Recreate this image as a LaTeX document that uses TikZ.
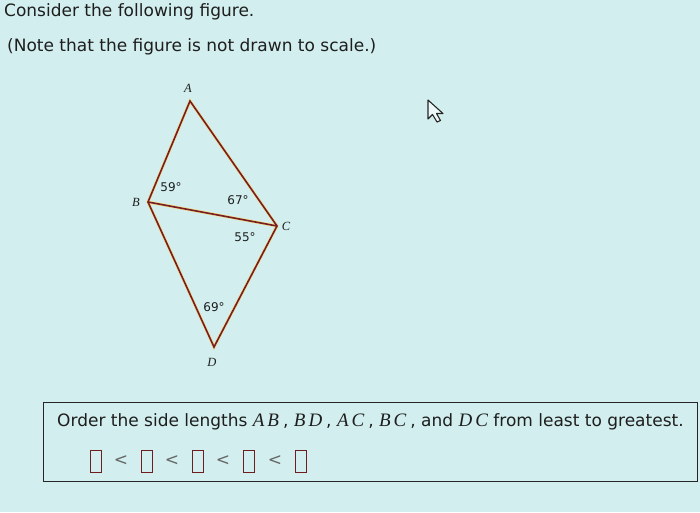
\documentclass[tikz,border=0pt]{standalone}
\usepackage{fontspec}
\setmainfont{DejaVu Sans}
\newfontfamily\serifit{Liberation Serif}
\definecolor{bg}{RGB}{210,238,238}
\definecolor{edge}{RGB}{120,28,40}
\definecolor{halo}{RGB}{235,200,60}
\definecolor{txt}{RGB}{30,30,30}
\definecolor{boxred}{RGB}{110,30,30}
\newcommand{\mv}[1]{{\serifit\itshape\fontsize{19}{20}\selectfont #1}}
\tikzset{
  side/.style={draw=edge, line width=1.6pt},
  sidehalo/.style={draw=halo!70, line width=2.8pt},
  vlabel/.style={font=\serifit\itshape\fontsize{12.5}{14}\selectfont, text=txt, inner sep=0pt},
  alabel/.style={font=\fontsize{12}{14}\selectfont, text=txt, inner sep=0pt},
  ansbox/.style={draw=boxred, line width=0.9pt, minimum width=11pt, minimum height=22pt, inner sep=0pt},
  lt/.style={font=\fontsize{17}{18}\selectfont, text=black!60, inner sep=0pt},
}
\begin{document}
\begin{tikzpicture}[x=1pt,y=-1pt]
\fill[bg] (0,0) rectangle (700,512);
\useasboundingbox (0,0) rectangle (700,512);
\node[anchor=west, text=txt, inner sep=0pt, font=\fontsize{17}{19}\selectfont] (t1) at (4,12) {Consider the following figure.};
\node[anchor=west, text=txt, inner sep=0pt, font=\fontsize{17}{19}\selectfont] (t2) at (7,47) {(Note that the figure is not drawn to scale.)};
\coordinate (A) at (190,101);
\coordinate (B) at (148,202);
\coordinate (C) at (277,226);
\coordinate (D) at (214,347);
\draw[sidehalo] (A) -- (C) -- (D) -- (B) -- cycle;
\draw[sidehalo] (B) -- (C);
\draw[side, line join=miter] (A) -- (C) -- (D) -- (B) -- cycle;
\draw[side] (B) -- (C);
\node[vlabel] (lA) at (188,88) {A};
\node[vlabel] (lB) at (136,202) {B};
\node[vlabel] (lC) at (286,226) {C};
\node[vlabel] (lD) at (212,362) {D};
\node[alabel] (a59) at (171,187) {59°};
\node[alabel] (a67) at (238,200) {67°};
\node[alabel] (a55) at (245,237) {55°};
\node[alabel] (a69) at (214,307) {69°};
% mouse cursor
\draw[black!85, line width=1.1pt, fill=bg!40, line join=round]
  (428,100) -- (428,119) -- (432.5,114.5) -- (437,122) -- (440.5,120.5) -- (436.5,113.5) -- (443,113.5) -- cycle;
\node[draw=black!85, line width=1.2pt, minimum width=654pt, minimum height=79pt, anchor=north west, inner sep=0pt] (frame) at (43,402) {};
\node[anchor=west, text=txt, inner sep=0pt, font=\fontsize{17}{19}\selectfont] (q) at (57,422) {Order the side lengths \mv{A\kern3pt B}\kern4pt, \mv{B\kern3pt D}\kern4pt, \mv{A\kern3pt C}\kern4pt, \mv{B\kern3pt C}\kern4pt, and \mv{D\kern3pt C} from least to greatest.};
\node[ansbox] (b1) at (96,461) {};
\node[lt] (l1) at (121,461) {<};
\node[ansbox] (b2) at (147,461) {};
\node[lt] (l2) at (172,461) {<};
\node[ansbox] (b3) at (198,461) {};
\node[lt] (l3) at (223,461) {<};
\node[ansbox] (b4) at (249,461) {};
\node[lt] (l4) at (275,461) {<};
\node[ansbox] (b5) at (301,461) {};
\end{tikzpicture}
\end{document}
